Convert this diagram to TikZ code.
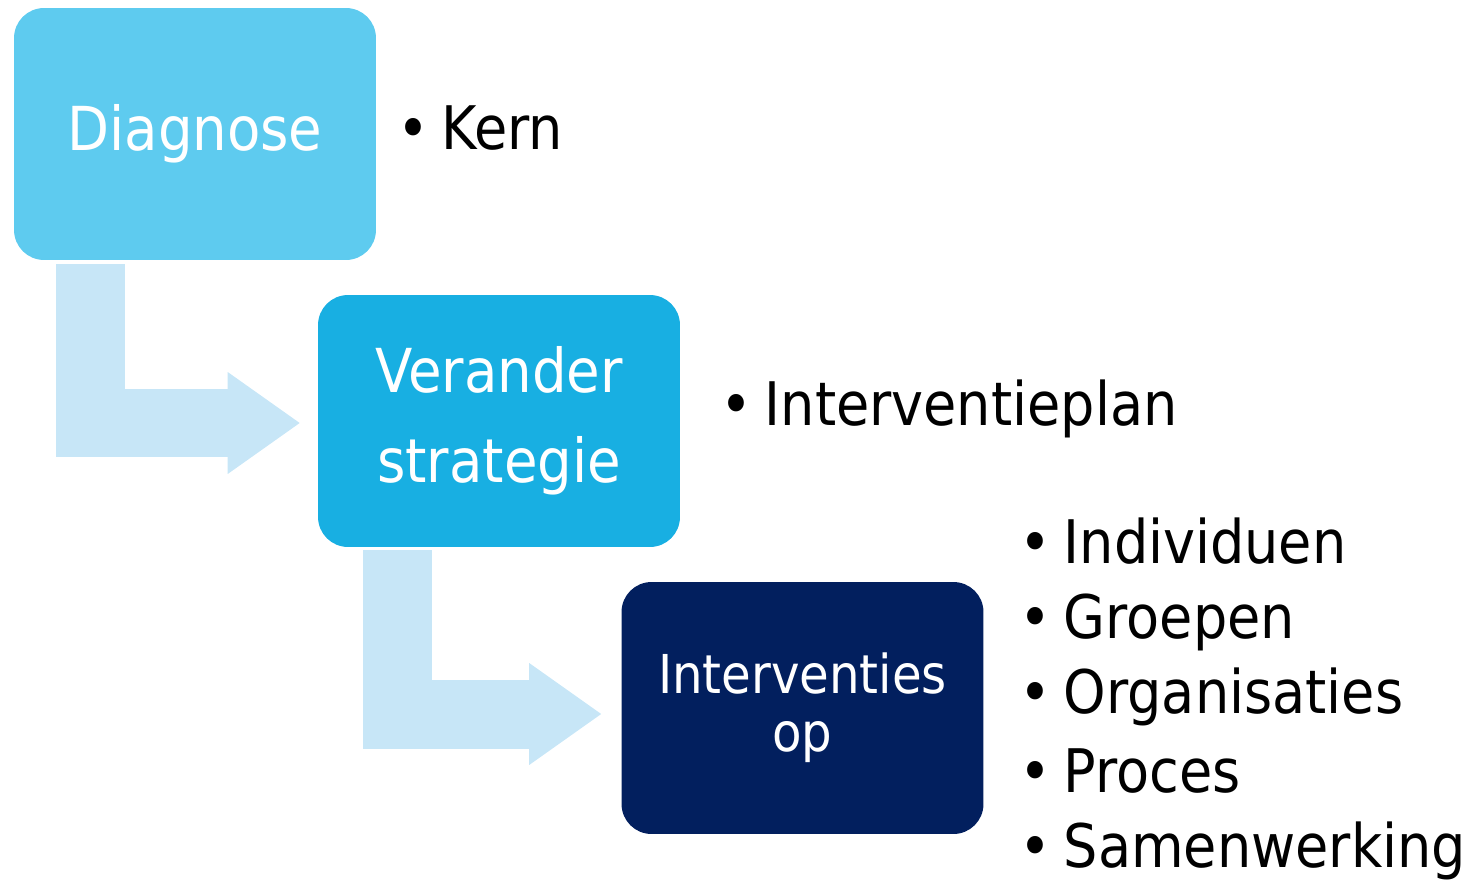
\documentclass[tikz,border=0pt]{standalone}
\usepackage{fontspec}
\setmainfont{DejaVu Sans Condensed}
\usetikzlibrary{arrows.meta, calc}

\definecolor{diagblue}{HTML}{5ECBEF}
\definecolor{stratblue}{HTML}{18AFE2}
\definecolor{navyblue}{HTML}{021F5E}
\definecolor{paleblue}{HTML}{C7E6F7}

\newcommand{\itm}[1]{\makebox[0.74em][l]{\textbullet}#1}

\begin{document}
\begin{tikzpicture}[x=0.02cm, y=-0.02cm,
    box/.style={rounded corners=0.6cm, minimum width=7.24cm, minimum height=5.04cm,
        inner sep=0pt, text=white, align=center},
    bigtext/.style={font=\fontsize{34.5}{51.5}\selectfont},
    flowarrow/.style={draw=paleblue, line width=1.38cm,
        -{Triangle[length=1.44cm, width=2.04cm, line width=0pt]}},
    listitem/.style={anchor=base west, inner sep=0pt, font=\fontsize{34.2}{43}\selectfont}]
    \useasboundingbox (0,0) rectangle (1473,885);

    \node[box, fill=diagblue, bigtext] (diag) at (195,134) {Diagnose};
    \node[box, fill=stratblue, bigtext] (strat) at (499,421) {Verander\\strategie};
    \node[box, fill=navyblue, font=\fontsize{30.5}{33}\selectfont] (interv) at (802.5,708) {Interventies\\op};

    % bent arrows between the steps
    \draw[flowarrow] ($(diag.south west)+(76.5,4)$) |- ($(strat.west)+(-18,2)$);
    \draw[flowarrow] ($(strat.south west)+(79.5,3)$) |- ($(interv.west)+(-20,6)$);

    \node[listitem] (kern) at (397,150) {\itm{Kern}};
    \node[listitem] (plan) at (720,425) {\itm{Interventieplan}};
    \foreach \name/\txt/\yy in {indiv/Individuen/563, groep/Groepen/638,
        organ/Organisaties/713, proces/Proces/792, samen/Samenwerking/867}
        \node[listitem] (\name) at (1019,\yy) {\itm{\txt}};
\end{tikzpicture}
\end{document}
